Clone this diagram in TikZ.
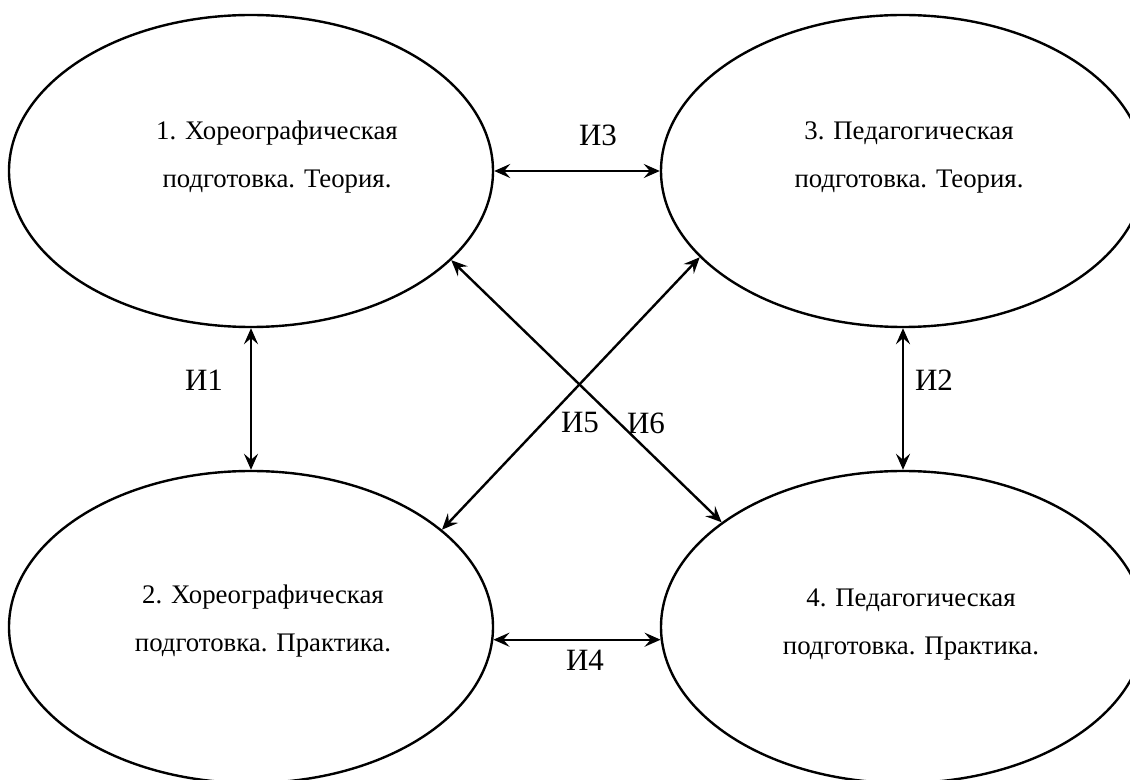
\documentclass[tikz,border=0pt]{standalone}
\usepackage{fontspec}
\setmainfont{Liberation Serif}
\usetikzlibrary{shapes.geometric,arrows.meta}
\tikzstyle{topic}=[
        draw = black,
        line width = 1.2pt,
        ellipse,
        inner sep = 0pt,
        minimum width = 242pt,
        minimum height = 156pt
    ]
\tikzstyle{topic text}=[
    align = center,
    font = \fontsize{13.4}{24}\selectfont
]
\tikzstyle{link}=[
    line width = 1.2pt,
    {Stealth[length=8pt,width=7pt,inset=3pt]}-{Stealth[length=8pt,width=7pt,inset=3pt]}
]

\begin{document}
\begin{tikzpicture}[x=0.5pt, y=-0.5pt, tag/.style = {font=\fontsize{15.5}{18}\selectfont}]
        \useasboundingbox (0,0) rectangle (1130,780);
        \clip (0,0) rectangle (1130,780);

        \node[topic] (e1) at (251,171) {};
        \node[topic] (e2) at (251,627) {};
        \node[topic] (e3) at (903,171) {};
        \node[topic] (e4) at (903,627) {};

        \node[topic text] (t1) at (277,157) {1. Хореографическая\\подготовка. Теория.};
        \node[topic text] (t2) at (263,621) {2. Хореографическая\\подготовка. Практика.};
        \node[topic text] (t3) at (909,157) {3. Педагогическая\\подготовка. Теория.};
        \node[topic text] (t4) at (911,625) {4. Педагогическая\\подготовка. Практика.};

        \draw[link] (e1) -- (e3);
        \draw[link] (e1.south) -- (e2.north);
        \draw[link] (e3.south) -- (e4.north);
        \draw[link] (e2.-3) -- (e4.-177);
        \draw[link] (e3.-157) -- (e2.27);
        \draw[link] (e1.-24) -- (e4.150);

        \node[tag] (i1) at (204,380) {И1};
        \node[tag] (i2) at (934,380) {И2};
        \node[tag] (i3) at (598,135) {И3};
        \node[tag] (i4) at (585,660) {И4};
        \node[tag] (i5) at (580,423) {И5};
        \node[tag] (i6) at (646,423) {И6};

    \end{tikzpicture}
\end{document}
